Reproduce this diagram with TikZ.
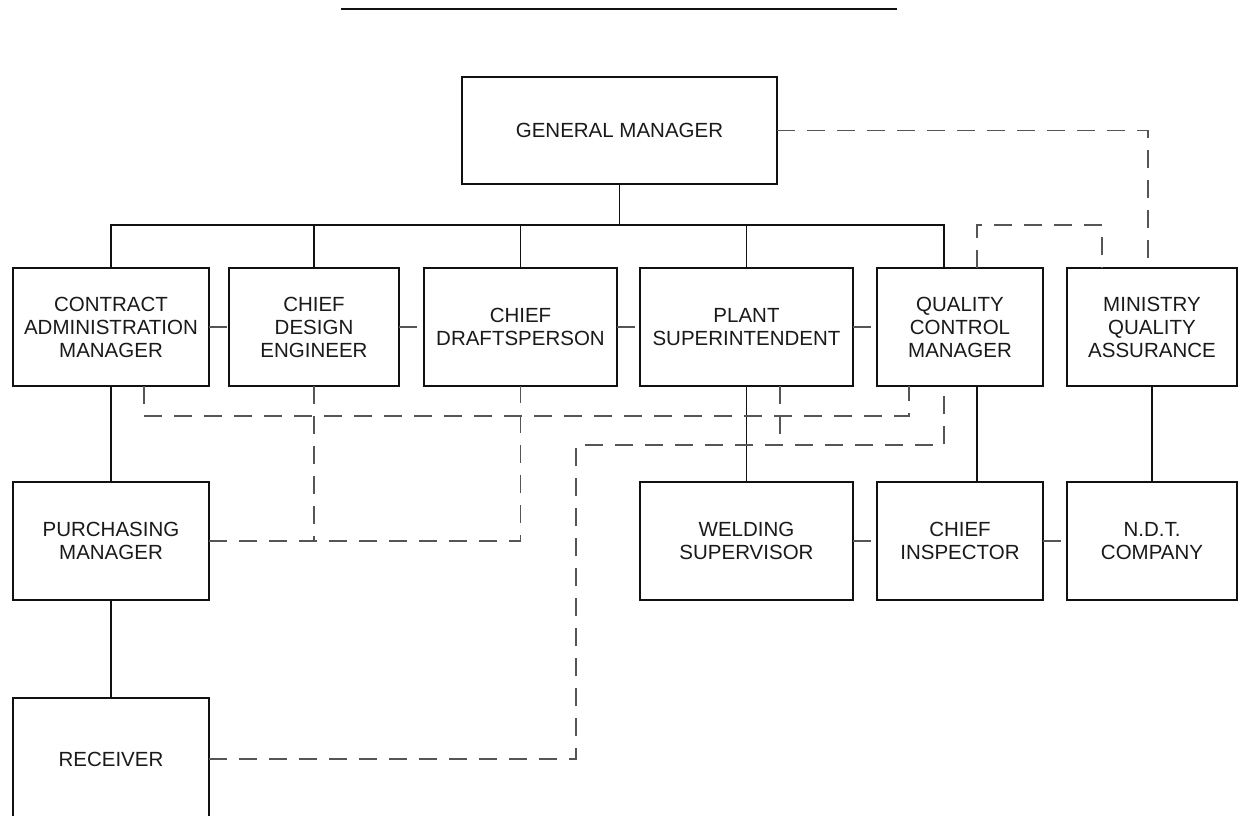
\documentclass[tikz,border=0pt]{standalone}
\usepackage{fontspec}
\setmainfont{Liberation Sans}
\usetikzlibrary{positioning, calc}
\definecolor{lineMain}{HTML}{111111}
\definecolor{lineDash}{HTML}{555555}
\definecolor{textMain}{HTML}{1A1A1A}
\tikzset{
  orgbox/.style={
    draw=lineMain, fill=white, line width=1.3pt,
    minimum height=118pt, inner sep=0pt, outer sep=0pt, align=center,
    font=\fontsize{20.5pt}{23pt}\selectfont, text=textMain,
  },
  solidlink/.style={
    draw=lineMain, line width=1.3pt,
  },
  dashlink/.style={
    draw=lineDash, line width=1.1pt, dash pattern=on 18pt off 12pt,
  },
}

\begin{document}
\begin{tikzpicture}[x=1pt, y=1pt]

  \useasboundingbox (0,0) rectangle (1238,-815);

  % === Title rule ===
  \draw[line width=2pt, lineMain] (341,-9) -- (897,-9);

  % === Top ===
  \node[orgbox, minimum width=315pt, minimum height=107pt] (gm) at (619.5,-130.5) {GENERAL MANAGER};

  % === First row ===
  \node[orgbox, minimum width=196pt] (cam) at (111,-327) {CONTRACT\\ADMINISTRATION\\MANAGER};
  \node[orgbox, minimum width=170pt, right=20pt of cam] (cde) {CHIEF\\DESIGN\\ENGINEER};
  \node[orgbox, minimum width=193pt, right=25pt of cde] (cd) {CHIEF\\DRAFTSPERSON};
  \node[orgbox, minimum width=213pt, right=23pt of cd] (ps) {PLANT\\SUPERINTENDENT};
  \node[orgbox, minimum width=166pt, right=24pt of ps] (qcm) {QUALITY\\CONTROL\\MANAGER};
  \node[orgbox, minimum width=170pt, right=24pt of qcm] (mqa) {MINISTRY\\QUALITY\\ASSURANCE};

  % === Second row ===
  \node[orgbox, minimum width=196pt, below=96pt of cam] (pm) {PURCHASING\\MANAGER};
  \node[orgbox, minimum width=213pt, below=96pt of ps] (ws) {WELDING\\SUPERVISOR};
  \node[orgbox, minimum width=166pt, below=96pt of qcm] (ci) {CHIEF\\INSPECTOR};
  \node[orgbox, minimum width=170pt, below=96pt of mqa] (ndt) {N.D.T.\\COMPANY};

  % === Third row (runs off the page bottom) ===
  \node[orgbox, minimum width=196pt, minimum height=122pt, below=98pt of pm] (rcv) {RECEIVER};

  % === Helper points ===
  \coordinate (bus) at ([yshift=-41pt]gm.south);
  \coordinate (rcvbend) at (576,-445);

  % === Solid lines ===
  \draw[solidlink] (gm.south) -- (bus);
  \draw[solidlink] (cam.north) |- ([xshift=-16pt]qcm.north |- bus) -- ([xshift=-16pt]qcm.north);
  \foreach \n in {cde, cd, ps}
    \draw[solidlink] (\n.north) -- (\n.north |- bus);
  \draw[solidlink] (cam) -- (pm);
  \draw[solidlink] (pm) -- (rcv);
  \draw[solidlink] (ps) -- (ws);
  \draw[solidlink] ([xshift=17pt]qcm.south) -- ([xshift=17pt]ci.north);
  \draw[solidlink] (mqa) -- (ndt);

  % === Dashed lines ===
  \draw[dashlink] (gm.east) -| ([xshift=-4pt]mqa.north);
  \draw[dashlink] ([xshift=17pt]qcm.north) |- ([xshift=-50pt]mqa.north |- bus) -- ([xshift=-50pt]mqa.north);
  \foreach \a/\b in {cam/cde, cde/cd, cd/ps, ps/qcm, ws/ci, ci/ndt}
    \draw[dashlink] (\a) -- (\b);
  \draw[dashlink] ([xshift=33pt]cam.south) -- ++(0,-30pt) -| ([xshift=-51pt]qcm.south);
  \draw[dashlink] (pm.east) -| (cd.south);
  \draw[dashlink] (cde.south) -- (cde.south |- pm.east);
  \draw[dashlink] (rcv.east) -| (rcvbend) -| ([xshift=-16pt]qcm.south);
  \draw[dashlink] ([xshift=33.5pt]ps.south) -- ([xshift=33.5pt]ps.south |- rcvbend);

\end{tikzpicture}
\end{document}
